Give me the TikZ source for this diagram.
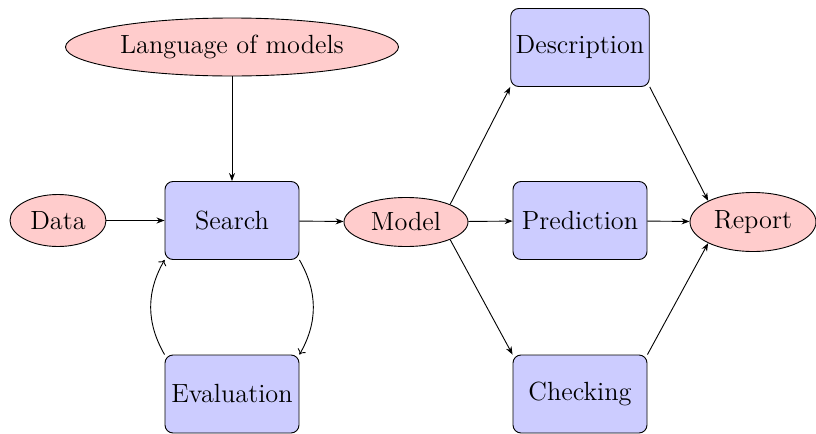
\documentclass[tikz,border=0pt]{standalone}
\usetikzlibrary{shapes.geometric,arrows.meta}
\begin{document}
\begin{tikzpicture}[x=0.5pt,y=-0.5pt,
  every node/.style={font=\fontsize{13.15pt}{15pt}\selectfont},
  boxnode/.style={draw, rounded corners=4pt, fill=blue!20, minimum width=67pt, minimum height=39pt, inner xsep=2.5pt, line width=0.45pt},
  ellnode/.style={draw, ellipse, fill=red!20, line width=0.45pt, inner sep=0pt},
  arr/.style={-{Stealth[length=4pt,width=3pt]}, line width=0.45pt},
  carr/.style={-{To[length=2.5pt,width=4.5pt]}, line width=0.45pt}]
\useasboundingbox (0,0) rectangle (816,434);
\node[ellnode, minimum width=166.5pt, minimum height=29pt] (lang) at (232,47) {Language of models};
\node[ellnode, minimum width=48pt, minimum height=26pt] (data) at (58,220.5) {Data};
\node[boxnode] (search) at (232,220.5) {Search};
\node[ellnode, minimum width=62pt, minimum height=24.5pt] (model) at (406,222) {Model};
\node[boxnode] (pred) at (580,220.5) {Prediction};
\node[ellnode, minimum width=63pt, minimum height=29.5pt] (report) at (753,222) {Report};
\node[boxnode] (desc) at (580,47.5) {Description};
\node[boxnode] (check) at (580,394) {Checking};
\node[boxnode] (eval) at (232,394) {Evaluation};
\draw[arr] (lang) -- (search);
\draw[arr] (data) -- (search);
\draw[arr] (search) -- (model);
\draw[arr] (model) -- (pred);
\draw[arr] (pred) -- (report);
\draw[arr] (model.north east) -- (desc.south west);
\draw[arr] (model.south east) -- (check.north west);
\draw[arr] (desc.south east) -- (report.north west);
\draw[arr] (check.north east) -- (report.south west);
\draw[carr] (search.south east) to[bend left=30] (eval.north east);
\draw[carr] (eval.north west) to[bend left=30] (search.south west);
\end{tikzpicture}
\end{document}
